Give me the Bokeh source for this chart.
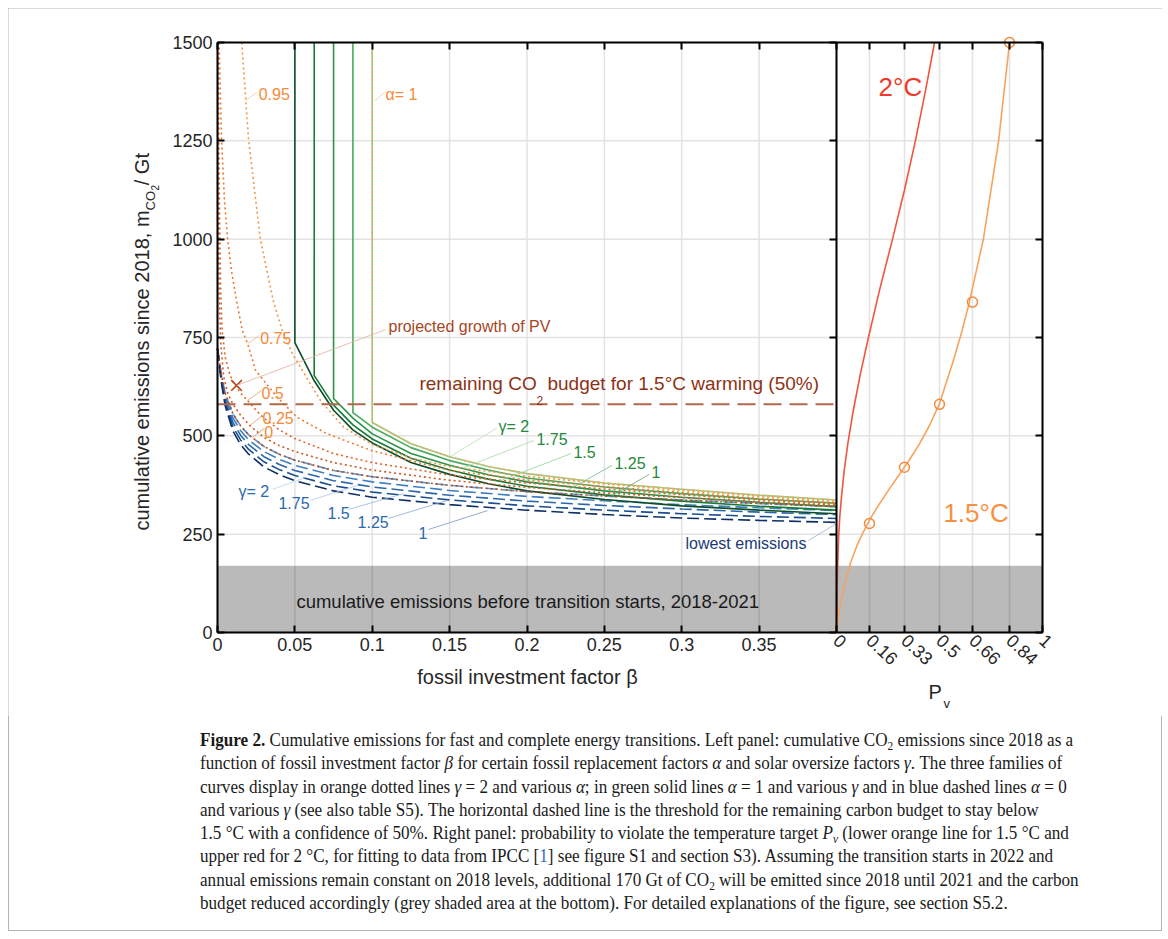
import math
from bokeh.plotting import figure
from bokeh.models import Range1d, LinearAxis, FixedTicker, Label, Div
from bokeh.layouts import column
from bokeh.embed import file_html
from bokeh.resources import INLINE

# ---------------- data ----------------
beta_ticks = [0, 0.05, 0.1, 0.15, 0.2, 0.25, 0.3, 0.35]
beta_tick_labels = ["0", "0.05", "0.1", "0.15", "0.2", "0.25", "0.3", "0.35"]
beta_max = 0.4
m_ticks = [0, 250, 500, 750, 1000, 1250, 1500]
m_max = 1500
pv_ticks = [0, 0.16, 0.33, 0.5, 0.66, 0.84, 1]
pv_tick_labels = ["0", "0.16", "0.33", "0.5", "0.66", "0.84", "1"]
pv_max = 1

budget_15 = 580          # remaining CO2 budget for 1.5 C (50%)
m_before = 170           # cumulative emissions 2018-2021
beta_pv = 0.0123         # projected growth of PV
m_pv = 628

# blue dashed: alpha = 0, various gamma
beta_a0 = [0, 0.0025, 0.005, 0.01, 0.015, 0.02, 0.03, 0.04, 0.05, 0.075, 0.1, 0.15, 0.2, 0.25, 0.3, 0.35, 0.4]
m_a0_g200 = [722, 655, 608, 556, 525, 503, 473, 453, 438, 412, 396, 374, 358, 347, 337, 328, 320]
m_a0_g175 = [722, 650, 600, 545, 513, 490, 460, 440, 425, 399, 383, 361, 346, 335, 325, 317, 310]
m_a0_g150 = [722, 645, 592, 534, 501, 478, 447, 427, 412, 386, 370, 349, 334, 323, 314, 306, 300]
m_a0_g125 = [722, 640, 584, 523, 489, 466, 434, 414, 399, 373, 357, 337, 322, 311, 302, 295, 290]
m_a0_g100 = [722, 635, 576, 512, 477, 454, 421, 401, 386, 360, 344, 325, 311, 300, 291, 285, 280]

# green solid: alpha = 1, various gamma
beta_a1_g100 = [0.05, 0.05, 0.0625, 0.075, 0.0875, 0.1, 0.125, 0.15, 0.175, 0.2, 0.25, 0.3, 0.35, 0.4]
m_a1_g100 = [1500, 737, 640, 565, 515, 482, 432, 402, 378, 360, 338, 322, 311, 302]
beta_a1_g125 = [0.0625, 0.0625, 0.075, 0.0875, 0.1, 0.125, 0.15, 0.175, 0.2, 0.25, 0.3, 0.35, 0.4]
m_a1_g125 = [1500, 653, 578, 528, 492, 443, 413, 390, 372, 350, 334, 321, 311]
beta_a1_g150 = [0.075, 0.075, 0.0875, 0.1, 0.125, 0.15, 0.175, 0.2, 0.25, 0.3, 0.35, 0.4]
m_a1_g150 = [1500, 595, 545, 505, 455, 425, 401, 383, 360, 344, 331, 320]
beta_a1_g175 = [0.0875, 0.0875, 0.1, 0.125, 0.15, 0.175, 0.2, 0.25, 0.3, 0.35, 0.4]
m_a1_g175 = [1500, 559, 522, 470, 437, 413, 393, 370, 353, 339, 329]
beta_a1_g200 = [0.1, 0.1, 0.125, 0.15, 0.175, 0.2, 0.25, 0.3, 0.35, 0.4]
m_a1_g200 = [1500, 534, 480, 447, 422, 404, 380, 364, 349, 337]

# orange dotted: gamma = 2, various alpha
beta_g2_a095 = [0.0157, 0.02, 0.0276, 0.036, 0.0418, 0.0485, 0.0665, 0.0815, 0.1, 0.125, 0.15, 0.2, 0.25, 0.3, 0.35, 0.4]
m_g2_a095 = [1500, 1256, 1002, 844, 768, 708, 590, 522, 478, 444, 422, 397, 378, 361, 346, 333]
beta_g2_a075 = [0.001, 0.0026, 0.0045, 0.0065, 0.009, 0.0123, 0.016, 0.0194, 0.0247, 0.0386, 0.0515, 0.0709, 0.1, 0.15, 0.2, 0.25, 0.3, 0.35, 0.4]
m_g2_a075 = [1500, 1256, 1100, 1002, 920, 844, 768, 735, 666, 598, 547, 505, 462, 412, 388, 371, 356, 341, 329]
beta_g2_a050 = [0.0004, 0.001, 0.002, 0.003, 0.005, 0.008, 0.0108, 0.015, 0.0194, 0.025, 0.03, 0.04, 0.05, 0.075, 0.1, 0.15, 0.2, 0.25, 0.3, 0.35, 0.4]
m_g2_a050 = [1500, 1150, 880, 768, 700, 655, 632, 608, 590, 565, 545, 515, 493, 455, 432, 400, 380, 365, 350, 337, 326]
beta_g2_a025 = [0.0002, 0.0005, 0.001, 0.002, 0.004, 0.0065, 0.01, 0.015, 0.0209, 0.03, 0.04, 0.05, 0.075, 0.1, 0.15, 0.2, 0.25, 0.3, 0.35, 0.4]
m_g2_a025 = [1500, 1100, 880, 740, 650, 610, 580, 552, 526, 496, 475, 460, 432, 413, 387, 369, 355, 343, 332, 323]

# right panel: probability to violate the target
p_15 = [0, 0.01, 0.025, 0.045, 0.07, 0.1, 0.127, 0.165, 0.2, 0.25, 0.3, 0.35, 0.4, 0.45, 0.5, 0.563, 0.61, 0.645, 0.713, 0.787, 0.84]
m_p15 = [0, 45, 90, 135, 180, 222, 252, 290, 320, 360, 398, 436, 477, 525, 582, 684, 768, 840, 1000, 1250, 1500]
p_20 = [0, 0.001, 0.003, 0.006, 0.01, 0.016, 0.025, 0.037, 0.055, 0.08, 0.115, 0.155, 0.21, 0.272, 0.33, 0.383, 0.43, 0.476]
m_p20 = [0, 60, 120, 180, 240, 295, 350, 410, 480, 560, 655, 750, 873, 1000, 1125, 1250, 1372, 1500]
p_ipcc = [0.16, 0.33, 0.5, 0.66, 0.84]
m_ipcc = [277, 420, 580, 840, 1500]

# ---------------- layout geometry (page pixels) ----------------
CX0, CX1, CY0, CY1 = 8, 1162, 8, 716     # canvas of the figure on the page
PX_B0, PX_B1 = 217, 836                  # beta = 0 ... 0.4
PX_P0, PX_P1 = 836, 1042                 # Pv = 0 ... 1
PY_M0, PY_M1 = 632, 42                   # m = 0 ... 1500

bpp = beta_max / (PX_B1 - PX_B0)
ppp = pv_max / (PX_P1 - PX_P0)
mpp = m_max / (PY_M0 - PY_M1)
x_left = Range1d((CX0 - PX_B0) * bpp, (CX1 - PX_B0) * bpp)
x_right = Range1d((CX0 - PX_P0) * ppp, (CX1 - PX_P0) * ppp)
y_rng = Range1d((PY_M0 - CY1) * mpp, (PY_M0 - CY0) * mpp)

FONT = "Liberation Sans"
TXT = "#262626"

p = figure(width=CX1 - CX0, height=CY1 - CY0, x_range=x_left, y_range=y_rng,
           x_axis_type=None, y_axis_type=None, output_backend="svg", toolbar_location=None,
           min_border=0, min_border_left=0, min_border_right=0, min_border_top=0, min_border_bottom=0)
p.extra_x_ranges = {"right": x_right}
p.outline_line_color = None
p.xgrid.visible = False
p.ygrid.visible = False


def style_axis(ax, labels=True):
    ax.axis_line_color = "black"
    ax.axis_line_width = 2
    ax.major_tick_in = 7
    ax.major_tick_out = 0
    ax.major_tick_line_color = "black"
    ax.major_tick_line_width = 2
    ax.minor_tick_line_color = None
    ax.major_label_text_font = FONT
    ax.major_label_text_font_size = "18px"
    ax.major_label_text_color = TXT
    if not labels:
        ax.major_label_text_font_size = "0px"
        ax.major_label_standoff = 0
        ax.major_label_text_alpha = 0


def lab(x, y, text, size, color, align="left", baseline="middle", angle=0.0, rng="default", style="normal"):
    p.add_layout(Label(x=x, y=y, text=text, text_font=FONT, text_font_size=f"{size}px",
                       text_color=color, text_align=align, text_baseline=baseline,
                       angle=angle, text_font_style=style, x_range_name=rng))


def leader(x0, y0, x1, y1, color, rng="default"):
    p.segment(x0=[x0], y0=[y0], x1=[x1], y1=[y1], line_color=color, line_width=0.8, x_range_name=rng)


GRID = "#e3e3e3"
# grid lines (from the tick arrays)
p.segment(x0=beta_ticks, y0=[0] * len(beta_ticks), x1=beta_ticks, y1=[m_max] * len(beta_ticks),
          line_color=GRID, line_width=1.5)
p.segment(x0=pv_ticks, y0=[0] * len(pv_ticks), x1=pv_ticks, y1=[m_max] * len(pv_ticks),
          line_color=GRID, line_width=1.5, x_range_name="right")
p.segment(x0=[0] * len(m_ticks), y0=m_ticks, x1=[beta_max] * len(m_ticks), y1=m_ticks,
          line_color=GRID, line_width=1.5)
p.segment(x0=[0] * len(m_ticks), y0=m_ticks, x1=[pv_max] * len(m_ticks), y1=m_ticks,
          line_color=GRID, line_width=1.5, x_range_name="right")

# grey area: emissions before the transition starts
p.quad(left=[0], right=[beta_max], bottom=[0], top=[m_before], fill_color="black", fill_alpha=0.27, line_color=None)
p.quad(left=[0], right=[pv_max], bottom=[0], top=[m_before], fill_color="black", fill_alpha=0.27, line_color=None,
       x_range_name="right")

# ---------------- left panel curves ----------------
blue_cols = ["#5b9bd5", "#3f7fc0", "#2b67aa", "#1c4f8f", "#0e2f66"]
for m, c in zip([m_a0_g200, m_a0_g175, m_a0_g150, m_a0_g125, m_a0_g100], blue_cols):
    p.line(beta_a0, m, line_color=c, line_width=1.6, line_dash="12 5")

green = [(beta_a1_g100, m_a1_g100, "#0b4d27"), (beta_a1_g125, m_a1_g125, "#177a37"),
         (beta_a1_g150, m_a1_g150, "#2a9446"), (beta_a1_g175, m_a1_g175, "#4aaa5a"),
         (beta_a1_g200, m_a1_g200, "#93cc7e")]
for b, m, c in green:
    p.line(b, m, line_color=c, line_width=1.6)

orange = [(beta_a0, m_a0_g200, "#b84a1e"), (beta_g2_a025, m_g2_a025, "#cf5a22"),
          (beta_g2_a050, m_g2_a050, "#e0672a"), (beta_g2_a075, m_g2_a075, "#ec7a32"),
          (beta_g2_a095, m_g2_a095, "#f39748"), (beta_a1_g200, m_a1_g200, "#f6a85e")]
for b, m, c in orange:
    p.line(b, m, line_color=c, line_width=1.6, line_dash="2 3")

p.segment(x0=[0], y0=[budget_15], x1=[beta_max], y1=[budget_15], line_color="#b0674c",
          line_width=2, line_dash="18 8")
p.scatter([beta_pv], [m_pv], marker="x", size=15, line_color="#b5451b", line_width=1.6)

# ---------------- right panel curves ----------------
p.line(p_20, m_p20, line_color="#f2553c", line_width=1.6, x_range_name="right")
p.line(p_15, m_p15, line_color="#f8a35c", line_width=1.6, x_range_name="right")
p.scatter(p_ipcc, m_ipcc, marker="circle", size=10, fill_color=None,
          line_color="#f28c40", line_width=1.5, x_range_name="right")

# ---------------- axes ----------------
ax_l = LinearAxis(ticker=FixedTicker(ticks=m_ticks), fixed_location=0, bounds=(0, m_max))
ax_l.major_label_overrides = {t: str(t) for t in m_ticks}
style_axis(ax_l)
p.add_layout(ax_l, "left")

ax_div = LinearAxis(ticker=FixedTicker(ticks=m_ticks), fixed_location=0, bounds=(0, m_max), x_range_name="right")
style_axis(ax_div, labels=False)
p.add_layout(ax_div, "right")

ax_r = LinearAxis(ticker=FixedTicker(ticks=m_ticks), fixed_location=pv_max, bounds=(0, m_max), x_range_name="right")
style_axis(ax_r, labels=False)
p.add_layout(ax_r, "right")

ax_b = LinearAxis(ticker=FixedTicker(ticks=beta_ticks), fixed_location=0, bounds=(0, beta_max))
ax_b.major_label_overrides = {t: s for t, s in zip(beta_ticks, beta_tick_labels)}
style_axis(ax_b)
p.add_layout(ax_b, "below")

ax_bp = LinearAxis(ticker=FixedTicker(ticks=pv_ticks), fixed_location=0, bounds=(0, pv_max), x_range_name="right")
ax_bp.major_label_overrides = {t: s for t, s in zip(pv_ticks, pv_tick_labels)}
style_axis(ax_bp)
ax_bp.major_label_orientation = -0.75
p.add_layout(ax_bp, "below")

ax_t = LinearAxis(ticker=FixedTicker(ticks=beta_ticks), fixed_location=m_max, bounds=(0, beta_max))
style_axis(ax_t, labels=False)
p.add_layout(ax_t, "above")

ax_tp = LinearAxis(ticker=FixedTicker(ticks=pv_ticks), fixed_location=m_max, bounds=(0, pv_max), x_range_name="right")
style_axis(ax_tp, labels=False)
p.add_layout(ax_tp, "above")

# ---------------- annotations ----------------
OR = "#f58b3a"
lab(0.0266, 1369, "0.95", 16, OR)
leader(0.0181, 1352, 0.0257, 1374, "#f8c9a0")
lab(0.1085, 1369, "α= 1", 16, OR)
leader(0.1015, 1352, 0.1086, 1374, "#f8c9a0")
lab(0.0276, 749, "0.75", 16, OR)
leader(0.0194, 734, 0.0269, 755, "#f3b890")
lab(0.0284, 608, "0.5", 16, OR)
leader(0.0194, 590, 0.0284, 615, "#e9a07a")
lab(0.0291, 545, "0.25", 16, OR)
leader(0.0209, 526, 0.0291, 552, "#dd9270")
lab(0.0302, 511, "0", 16, OR)
leader(0.0226, 496, 0.0302, 519, "#d98868")

GR = "#24883c"
lab(0.1816, 524, "γ= 2", 16, GR)
leader(0.1505, 447, 0.1805, 520, "#b8e0b0")
lab(0.2061, 493, "1.75", 16, GR)
leader(0.159, 419, 0.2045, 488, "#a8d8a4")
lab(0.2300, 460, "1.5", 16, GR)
leader(0.1828, 386, 0.2285, 455, "#98d096")
lab(0.2565, 430, "1.25", 16, GR)
leader(0.2261, 361, 0.255, 425, "#7ab88a")
lab(0.2805, 407, "1", 16, GR)
leader(0.254, 345, 0.279, 402, "#6aa07a")

BL = "#2a68b0"
lab(0.0136, 358, "γ= 2", 16, BL)
leader(0.0355, 364, 0.0569, 394, "#b8d4ee")
lab(0.0394, 330, "1.75", 16, BL)
leader(0.0601, 336, 0.0905, 374, "#a8c8e8")
lab(0.0711, 305, "1.5", 16, BL)
leader(0.0847, 313, 0.1202, 353, "#98b8e0")
lab(0.0905, 282, "1.25", 16, BL)
leader(0.1105, 290, 0.1486, 336, "#8aa8d0")
lab(0.1299, 254, "1", 16, BL)
leader(0.1364, 262, 0.1745, 310, "#7a98c0")

lab(0.1105, 778, "projected growth of PV", 16, "#a8461e")
leader(beta_pv, m_pv, 0.1086, 770, "#e0b0a0")

BR = "#8e3216"
lab(0.1305, 633, "remaining CO", 19, BR)
lab(0.2061, 590, "2", 12, BR)
lab(0.2132, 633, "budget for 1.5°C warming  (50%)", 19, BR)

lab(0.3024, 226, "lowest emissions", 16, "#1b3a75")
leader(0.3819, 234, beta_max, 277, "#9fb0c8")

lab(0.051, 79, "cumulative emissions before transition starts, 2018-2021", 18.5, "#1a1a1a")

lab(0.2003, -112, "fossil investment factor β", 20, TXT, align="center")

# rotated y label with subscripts (centred on the axis)
lab(-0.0491, 1073, "cumulative emissions since 2018, m", 20, TXT, align="right", angle=math.pi / 2)
lab(-0.0433, 1073, "CO", 13, TXT, angle=math.pi / 2)
lab(-0.0401, 1124, "2", 10, TXT, angle=math.pi / 2)
lab(-0.0491, 1137, " / Gt", 20, TXT, angle=math.pi / 2)

# right panel texts
lab(0.204, 1386, "2°C", 26, "#ee3a2a", rng="right")
lab(0.519, 305, "1.5°C", 26, "#f7913f", rng="right")
lab(0.4466, -150, "P", 20, TXT, rng="right")
lab(0.519, -181, "v", 13, TXT, rng="right")

# ---------------- caption ----------------
sub = '<span style="font-size:12px;line-height:0;position:relative;top:4px;">{}</span>'
lines = [
    '<b>Figure 2.</b> Cumulative emissions for fast and complete energy transitions. Left panel: cumulative CO' + sub.format('2') + ' emissions since 2018 as a',
    'function of fossil investment factor <i>β</i> for certain fossil replacement factors <i>α</i> and solar oversize factors <i>γ</i>. The three families of',
    'curves display in orange dotted lines <i>γ</i> = 2 and various <i>α</i>; in green solid lines <i>α</i> = 1 and various <i>γ</i> and in blue dashed lines <i>α</i> = 0',
    'and various <i>γ</i> (see also table S5). The horizontal dashed line is the threshold for the remaining carbon budget to stay below',
    '1.5 °C with a confidence of 50%. Right panel: probability to violate the temperature target <i>P</i>' + sub.format('<i>v</i>') + ' (lower orange line for 1.5 °C and',
    'upper red for 2 °C, for fitting to data from IPCC [<span style="color:#2a6ebb;">1</span>] see figure S1 and section S3). Assuming the transition starts in 2022 and',
    'annual emissions remain constant on 2018 levels, additional 170 Gt of CO' + sub.format('2') + ' will be emitted since 2018 until 2021 and the carbon',
    'budget reduced accordingly (grey shaded area at the bottom). For detailed explanations of the figure, see section S5.2.',
]
line_div = '<div style="height:23.3px;line-height:23.3px;overflow:visible;">{}</div>'
cap_html = ('<div style="margin:13px 0 0 192px;"><div style="transform:scaleX(0.95);transform-origin:0 0;'
            'font-family:\'Liberation Serif\',serif;font-size:18px;color:#1a1a1a;white-space:nowrap;">'
            + ''.join(line_div.format(s) for s in lines) + '</div></div>')
cap = Div(text=cap_html, width=CX1 - CX0, height=931 - CY1, margin=(0, 0, 0, 0))

layout = column(p, cap, styles={"margin": "8px", "outline": "1px solid #b4b4b4", "outline-offset": "-1px"})

open("out.html", "w").write(file_html(layout, INLINE))
